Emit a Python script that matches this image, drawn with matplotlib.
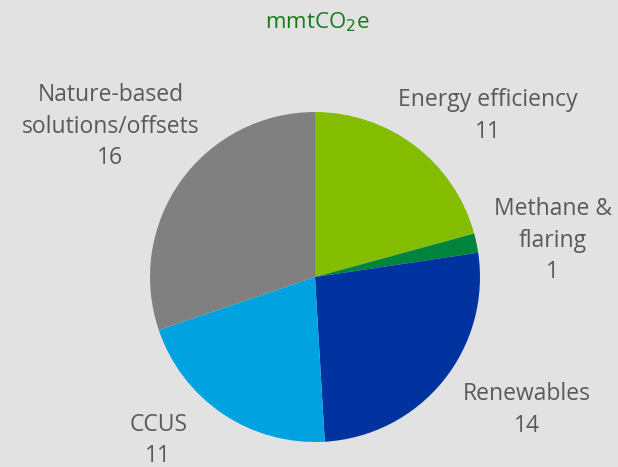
import matplotlib.pyplot as plt

# Emissions reduction by lever
labels = ['Energy efficiency', 'Methane &\nflaring', 'Renewables', 'CCUS', 'Nature-based\nsolutions/offsets']
values = [11, 1, 14, 11, 16]
colors = ['#84bd00', '#00843d', '#0033a0', '#00a3e0', '#808080']
# label centres in pie units (radius = 1)
label_pos = [(1.05, 0.975), (1.44, 0.22), (1.285, -0.805), (-0.95, -0.99), (-1.24, 0.91)]

plt.rcParams['font.family'] = ['Open Sans', 'DejaVu Sans']
bg = '#e2e2e2'

fig = plt.figure(figsize=(6.18, 4.67), dpi=100, facecolor=bg)
ax = fig.add_axes([0.2427, 0.0535, 0.534, 0.7066])
ax.set_facecolor(bg)

ax.pie(values, colors=colors, startangle=90, counterclock=False, radius=1,
       wedgeprops=dict(linewidth=0))
ax.set_xlim(-1, 1)
ax.set_ylim(-1, 1)
ax.set_aspect('equal')
ax.axis('off')

for lab, val, (x, y) in zip(labels, values, label_pos):
    ax.text(x, y, f'{lab}\n{val}', ha='center', va='center', fontsize=16.5,
            color='#595959', linespacing=1.42, clip_on=False)

fig.text(0.513, 0.953, 'mmtCO$_2$e', ha='center', va='center', fontsize=16,
         color='#1a7a1a')

fig.savefig('out.png', dpi=100, facecolor=bg)
